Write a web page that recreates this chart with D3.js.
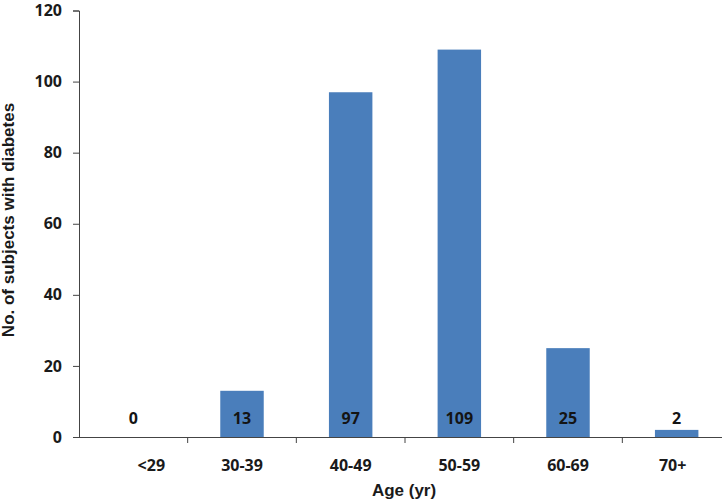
<!DOCTYPE html>
<html>
<head>
<meta charset="utf-8">
<script src="https://cdn.jsdelivr.net/npm/d3@7"></script>
<style>
  body { margin: 0; background: #fff; }
  svg { display: block; }
</style>
</head>
<body>
<div id="chart"></div>
<script>
const ageGroups = ["<29", "30-39", "40-49", "50-59", "60-69", "70+"];
const counts = [0, 13, 97, 109, 25, 2];
const yTicks = [0, 20, 40, 60, 80, 100, 120];

const width = 725, height = 504;
const plotLeft = 79, plotRight = 731, plotTop = 10.5, plotBottom = 437;

const svg = d3.select("#chart").append("svg")
  .attr("width", width)
  .attr("height", height);

const x = d3.scaleBand()
  .domain(ageGroups)
  .range([plotLeft, plotRight])
  .paddingInner(0.6)
  .paddingOuter(0.3);

const y = d3.scaleLinear()
  .domain([0, 120])
  .range([plotBottom, plotTop]);

const numFont = "'Open Sans', sans-serif";
const titleFont = "'Liberation Sans', Arial, sans-serif";

// bars
svg.append("g")
  .selectAll("rect")
  .data(counts)
  .join("rect")
  .attr("x", (d, i) => x(ageGroups[i]))
  .attr("y", d => y(d))
  .attr("width", x.bandwidth())
  .attr("height", d => y(0) - y(d))
  .attr("fill", "#4a7ebb");

// value labels sit just above the base line
svg.append("g")
  .selectAll("text")
  .data(counts)
  .join("text")
  .attr("x", (d, i) => x(ageGroups[i]) + x.bandwidth() / 2)
  .attr("y", y(0) - 13)
  .attr("text-anchor", "middle")
  .attr("font-family", numFont)
  .attr("font-weight", "bold")
  .attr("font-size", 16)
  .attr("fill", "#141414")
  .text(d => d);

// y axis
const yAxis = svg.append("g")
  .attr("transform", `translate(${plotLeft},0)`)
  .call(d3.axisLeft(y).tickValues(yTicks).tickSize(6).tickPadding(11));
yAxis.select(".domain").attr("stroke", "#444");
yAxis.selectAll(".tick line").attr("stroke", "#444");
yAxis.selectAll(".tick text")
  .attr("font-family", numFont)
  .attr("font-weight", "bold")
  .attr("font-size", 16)
  .attr("fill", "#1a1a1a");

// x axis: labels at band centres, ticks at band boundaries
const xAxis = svg.append("g")
  .attr("transform", `translate(0,${plotBottom})`)
  .call(d3.axisBottom(x).tickSize(0).tickPadding(23));
xAxis.select(".domain").attr("stroke", "#444").attr("d", `M${plotLeft},0.5H722`);
xAxis.selectAll(".tick text")
  .attr("font-family", numFont)
  .attr("font-weight", "bold")
  .attr("font-size", 16)
  .attr("fill", "#1a1a1a")
  .attr("dx", d => d === "<29" ? 18 : (d === "70+" ? -4 : 0));

svg.append("g")
  .selectAll("line")
  .data(ageGroups.slice(1))
  .join("line")
  .attr("x1", d => x(d) - x.step() * x.paddingInner() / 2)
  .attr("x2", d => x(d) - x.step() * x.paddingInner() / 2)
  .attr("y1", plotBottom)
  .attr("y2", plotBottom + 6)
  .attr("stroke", "#444");

// axis titles
svg.append("text")
  .attr("x", 404)
  .attr("y", 496)
  .attr("text-anchor", "middle")
  .attr("font-family", titleFont)
  .attr("font-weight", "bold")
  .attr("font-size", 17)
  .attr("fill", "#1a1a1a")
  .text("Age (yr)");

svg.append("text")
  .attr("transform", "translate(14,220) rotate(-90)")
  .attr("text-anchor", "middle")
  .attr("font-family", titleFont)
  .attr("font-weight", "bold")
  .attr("font-size", 17)
  .attr("fill", "#1a1a1a")
  .text("No. of subjects with diabetes");
</script>
</body>
</html>
